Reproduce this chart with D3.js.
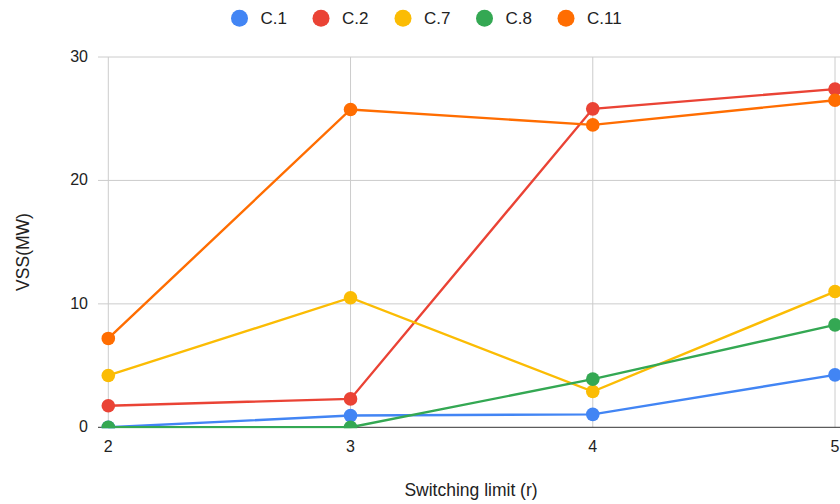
<!DOCTYPE html>
<html><head><meta charset="utf-8">
<script src="https://cdn.jsdelivr.net/npm/d3@7"></script>
<style>body{margin:0;background:#fff}svg{display:block;font-family:Arial,"Liberation Sans",sans-serif}</style>
</head><body><svg id="c" width="840" height="504"></svg>
<script>
const categories = [2, 3, 4, 5];
const seriesNames = ["C.1", "C.2", "C.7", "C.8", "C.11"];
const c1 = [0, 0.95, 1.05, 4.25];
const c2 = [1.75, 2.3, 25.8, 27.4];
const c7 = [4.2, 10.5, 2.9, 11.0];
const c8 = [0, 0, 3.9, 8.3];
const c11 = [7.2, 25.75, 24.5, 26.5];
const yTicks = [0, 10, 20, 30];
const colors = ["#4285F4", "#EA4335", "#FBBC04", "#34A853", "#FF6D01"];
const seriesValues = [c1, c2, c7, c8, c11];

(function () {
const svg = d3.select("#c");
const pLeft = 98, pTop = 57, pBottom = 427.3, pRight = 860;
const x = d3.scaleLinear().domain([2, 5]).range([108.3, 835]);
const y = d3.scaleLinear().domain([0, 30]).range([pBottom, pTop]);

const g = svg.append("g");
g.selectAll("line.h").data(yTicks.filter(d => d !== 0)).join("line")
  .attr("x1", pLeft).attr("x2", pRight).attr("y1", d => y(d)).attr("y2", d => y(d))
  .attr("stroke", "#cccccc").attr("stroke-width", 1);
g.selectAll("line.v").data(categories).join("line")
  .attr("x1", d => x(d)).attr("x2", d => x(d)).attr("y1", pTop).attr("y2", pBottom)
  .attr("stroke", "#cccccc").attr("stroke-width", 1);

svg.append("g").selectAll("text").data(yTicks).join("text")
  .attr("x", 88).attr("y", d => y(d) + 5).attr("text-anchor", "end")
  .attr("font-size", 16).attr("fill", "#222").text(d => d);
svg.append("g").selectAll("text").data(categories).join("text")
  .attr("x", d => x(d)).attr("y", 452).attr("text-anchor", "middle")
  .attr("font-size", 16).attr("fill", "#222").text(d => d);

svg.append("line").attr("x1", pLeft).attr("x2", pRight).attr("y1", pBottom).attr("y2", pBottom)
  .attr("stroke", "#333").attr("stroke-width", 1);

svg.append("text").attr("x", 471).attr("y", 496).attr("text-anchor", "middle")
  .attr("font-size", 17.5).attr("fill", "#222").text("Switching limit (r)");
svg.append("text").attr("transform", "translate(29,252) rotate(-90)").attr("text-anchor", "middle")
  .attr("font-size", 17.5).attr("fill", "#222").text("VSS(MW)");

svg.append("clipPath").attr("id", "clip").append("rect")
  .attr("x", pLeft).attr("y", 0).attr("width", 900).attr("height", pBottom + 1);

const line = d3.line().x((d, i) => x(categories[i])).y(d => y(d));
const plot = svg.append("g").attr("clip-path", "url(#clip)");
seriesValues.forEach((vals, si) => {
  plot.append("path").datum(vals).attr("d", line).attr("fill", "none")
    .attr("stroke", colors[si]).attr("stroke-width", 2.4);
});
seriesValues.forEach((vals, si) => {
  plot.append("g").selectAll("circle").data(vals).join("circle")
    .attr("cx", (d, i) => x(categories[i])).attr("cy", d => y(d)).attr("r", 6.8)
    .attr("fill", colors[si]);
});

const legendX = [239.5, 321, 403, 484.5, 566];
const lg = svg.append("g");
seriesNames.forEach((n, i) => {
  lg.append("circle").attr("cx", legendX[i]).attr("cy", 18.3).attr("r", 8.5).attr("fill", colors[i]);
  lg.append("text").attr("x", legendX[i] + 21).attr("y", 24.3).attr("font-size", 17)
    .attr("fill", "#222").text(n);
});
})();
</script></body></html>
